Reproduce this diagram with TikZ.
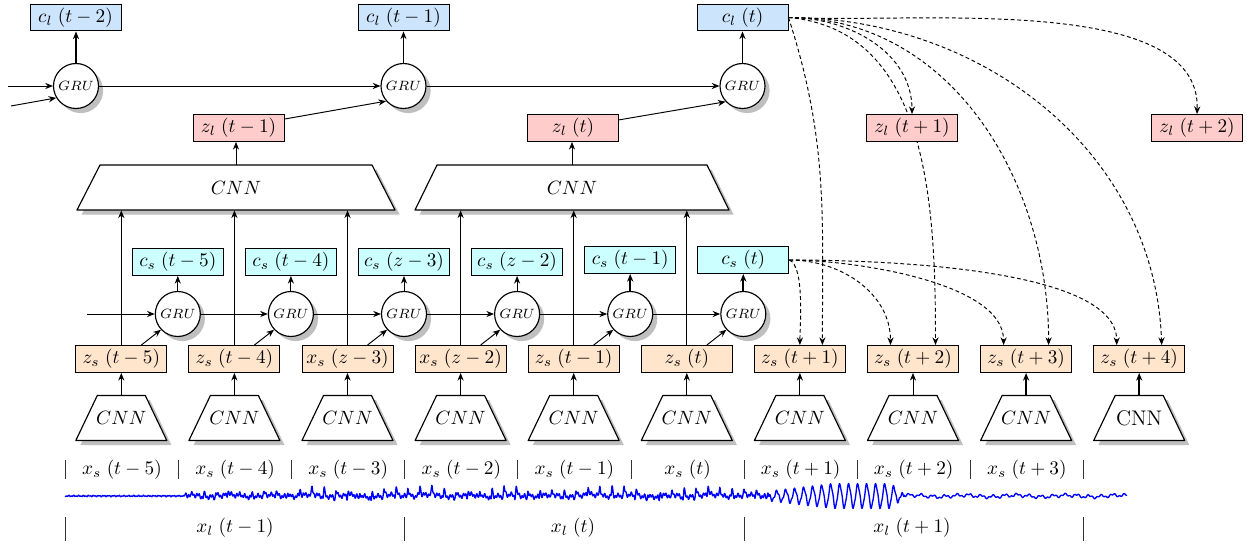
\documentclass[tikz,border=0pt]{standalone}
\usetikzlibrary{shadows,arrows.meta,backgrounds}
\definecolor{clblue}{RGB}{204,228,252}
\definecolor{zlred}{RGB}{255,204,204}
\definecolor{cscyan}{RGB}{204,255,255}
\definecolor{zsorange}{RGB}{255,229,204}
\begin{document}
\begin{tikzpicture}[x=0.52pt,y=-0.52pt,
  >={Stealth[length=4pt,width=3.2pt]},
  box/.style={draw, line width=0.5pt, minimum width=47.3pt, minimum height=14pt, inner sep=0pt},
  clbox/.style={box, fill=clblue},
  zlbox/.style={box, fill=zlred},
  csbox/.style={box, fill=cscyan},
  zsbox/.style={box, fill=zsorange},
  shad/.style={drop shadow={shadow xshift=2.4pt, shadow yshift=-2.4pt, fill=black!25, opacity=1}},
  gru/.style={circle, draw, line width=0.6pt, fill=white, minimum size=23.4pt, inner sep=0pt, font=\scriptsize, shad},
  trap/.style={draw, line width=0.6pt, fill=white, line join=round, shad},
  scnn/.style={minimum width=47.3pt, minimum height=23.4pt, inner sep=0pt},
  bcnn/.style={minimum width=164pt, minimum height=23.4pt, inner sep=0pt},
  link/.style={->, line width=0.5pt},
  blink/.style={->, line width=0.9pt},
  dlink/.style={->, line width=0.5pt, dash pattern=on 2pt off 1.4pt},
  tick/.style={line width=0.5pt, black!80},
  wave/.style={blue, line width=0.7pt, line join=round}
]
\useasboundingbox (0,0) rectangle (1249,546);

% ---------- top level ----------
\node[gru] (G1) at (76,86) {$GRU$};
\node[gru] (G2) at (403.5,86) {$GRU$};
\node[gru] (G3) at (742.5,86) {$GRU$};
\node[clbox] (CL1) at (75.5,17.5) {$c_l\;(t-2)$};
\node[clbox] (CL2) at (403.5,17.5) {$c_l\;(t-1)$};
\node[clbox] (CL3) at (742.5,17.5) {$c_l\;(t)$};
\node[zlbox] (ZL1) at (238.5,128) {$z_l\;(t-1)$};
\node[zlbox] (ZL2) at (573,128) {$z_l\;(t)$};
\node[zlbox] (ZL3) at (912,128) {$z_l\;(t+1)$};
\node[zlbox] (ZL4) at (1197,128) {$z_l\;(t+2)$};
\path[trap] (236,187.5) ++(-159,22.5) -- ++(318,0) -- ++(-23,-45) -- ++(-272,0) -- cycle;
\node[bcnn] (T1) at (236,187.5) {$CNN$};
\path[trap] (572,187.5) ++(-157,22.5) -- ++(314,0) -- ++(-22,-45) -- ++(-270,0) -- cycle;
\node[bcnn] (T2) at (572,187.5) {$CNN$};

\coordinate (in1) at (8,86);
\coordinate (in2) at (11,106);
\draw[link] (in1) -- (G1);
\draw[link] (in2) -- (G1.211);
\draw[link] (G1) -- (G2);
\draw[link] (G2) -- (G3);
\draw[blink] (G1.north) -- (G1.north |- CL1.south);
\draw[link] (G2.north) -- (G2.north |- CL2.south);
\draw[link] (G3.north) -- (G3.north |- CL3.south);
\draw[link] (ZL1.11) -- (G2.221);
\draw[link] (ZL2.10) -- (G3.223);
\draw[link] (T1.north) -- (T1.north |- ZL1.south);
\draw[link] (T2.north) -- (T2.north |- ZL2.south);

% ---------- short level ----------
\foreach \i/\lab/\yy in {1/{c_s\;(t-5)}/262,2/{c_s\;(t-4)}/262,3/{c_s\;(z-3)}/262,4/{c_s\;(z-2)}/262,5/{c_s\;(t-1)}/260,6/{c_s\;(t)}/260}{
  \node[gru] (g\i) at ({177.8+113.1*(\i-1)},314) {$GRU$};
  \node[csbox] (CS\i) at ({177.8+113.1*(\i-1)},\yy) {$\lab$};
}
\foreach \i/\lab in {1/{z_s\;(t-5)},2/{z_s\;(t-4)},3/{x_s\;(z-3)},4/{x_s\;(z-2)},5/{z_s\;(t-1)},6/{z_s\;(t)},7/{z_s\;(t+1)},8/{z_s\;(t+2)},9/{z_s\;(t+3)},10/{z_s\;(t+4)}}{
  \node[zsbox] (ZS\i) at ({121.3+113.1*(\i-1)},359) {$\lab$};
}
\foreach \i in {1,...,10}{
  \path[trap] ({121.3+113.1*(\i-1)},418) ++(-45.5,22.5) -- ++(91,0) -- ++(-21.5,-45) -- ++(-48,0) -- cycle;
}
\foreach \i in {1,...,9}{
  \node[scnn] (C\i) at ({121.3+113.1*(\i-1)},418) {$CNN$};
}
\node[scnn, font=\fontsize{11}{13}\selectfont] (C10) at ({121.3+113.1*9},418) {CNN};

\coordinate (sin) at (87,314);
\draw[link] (sin) -- (g1);
\foreach \i/\j in {1/2,2/3,3/4,4/5,5/6}{\draw[link] (g\i) -- (g\j);}
\foreach \i in {1,...,4}{\draw[link] (g\i.north) -- (CS\i.south);}
\foreach \i in {5,6}{\draw[blink] (g\i.north) -- (CS\i.south);}
\foreach \i in {1,...,6}{\draw[link] ([xshift=10.4pt]ZS\i.north) -- (g\i.223);}
\foreach \i in {1,...,8}{\draw[link] (C\i.north) -- (ZS\i.south);}
\foreach \i in {9,10}{\draw[blink] (C\i.north) -- (ZS\i.south);}
\foreach \i in {1,2,3}{\draw[link] (ZS\i.north) -- (ZS\i.north |- T1.south);}
\foreach \i in {4,5,6}{\draw[link] (ZS\i.north) -- (ZS\i.north |- T2.south);}

% ---------- predictions (dashed) ----------
\begin{pgfonlayer}{background}
\draw[dlink] (CL3.east) to[out=-72,in=90] ([xshift=11.7pt]ZS7.north);
\draw[dlink] (CL3.east) to[out=0,in=90] (ZL3.north);
\draw[dlink] (CL3.east) to[out=-5,in=90] ([xshift=11.7pt]ZS8.north);
\draw[dlink] (CL3.east) to[out=0,in=90] ([xshift=11.7pt]ZS9.north);
\draw[dlink] (CL3.east) to[out=0,in=92] ([xshift=11.7pt]ZS10.north);
\draw[dlink] (CL3.east) to[out=-3,in=88,looseness=0.75] (ZL4.north);
\draw[dlink] (CS6.east) to[out=-20,in=90,looseness=0.5] (ZS7.north);
\draw[dlink] (CS6.east) to[out=0,in=90] ([xshift=-11.7pt]ZS8.north);
\draw[dlink] (CS6.east) to[out=0,in=90,looseness=0.7] ([xshift=-11.7pt]ZS9.north);
\draw[dlink] (CS6.east) to[out=0,in=90,looseness=0.6] ([xshift=-11.7pt]ZS10.north);
\end{pgfonlayer}

% ---------- signal and segments ----------
\foreach \k in {0,...,9}{\draw[tick] ({65.5+113.1*\k},460) -- ({65.5+113.1*\k},479);}
\foreach \k/\lab in {0/{x_s\;(t-5)},1/{x_s\;(t-4)},2/{x_s\;(t-3)},3/{x_s\;(t-2)},4/{x_s\;(t-1)},5/{x_s\;(t)},6/{x_s\;(t+1)},7/{x_s\;(t+2)},8/{x_s\;(t+3)}}{
  \node (XS\k) at ({122+113.1*\k},470) {$\lab$};
}
\foreach \k in {0,3,6,9}{\draw[tick] ({65.5+113.1*\k},517) -- ({65.5+113.1*\k},541);}
\node (XL1) at (235,528) {$x_l\;(t-1)$};
\node (XL2) at (573,528) {$x_l\;(t)$};
\node (XL3) at (912,528) {$x_l\;(t+1)$};

\draw[wave] plot[domain=65:185, samples=160] (\x, {496 + 0.5*sin(150*mod(\x,12)) + 0.4*sin(72*mod(\x,5))});
\draw[wave] plot[domain=185:770, samples=1400] (\x, {496 + 1.6*sin(135*mod(\x,8)) + 1.4*sin(54*mod(\x,20)+17) + 1.0*sin(\x*9)
   + (0.35+0.65*min(1,(\x-185)/170))*(
     - (9+3*sin(\x*3.7))/(1+20*sin(\x*15)*sin(\x*15))
     + (5+2*sin(\x*2.3))/(1+20*sin(\x*15+14)*sin(\x*15+14)))});
\draw[wave] plot[domain=770:905, samples=340] (\x, {496 + min(11.5,4+0.12*(\x-770))*min(1,(905-\x)/14)*sin((\x-770)*40) + 1.3*sin(120*mod(\x,3))});
\draw[wave] plot[domain=905:1127, samples=300] (\x, {496 + 1.3*sin(30*mod(\x,12)) + 0.8*sin(80*mod(\x,9)) + 0.8*sin(\x*7)});
\end{tikzpicture}
\end{document}
